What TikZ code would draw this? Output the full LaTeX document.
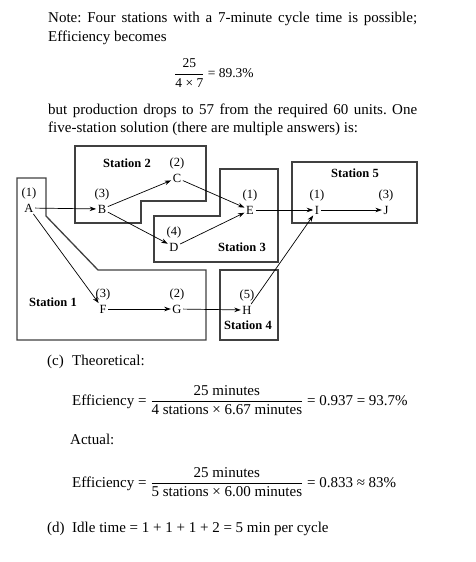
\documentclass[tikz,border=0pt]{standalone}
\usepackage{amsmath}
\usepackage{fontspec}
\setmainfont{Liberation Serif}
\usetikzlibrary{arrows.meta}
\frenchspacing

\begin{document}
\begin{tikzpicture}[x=1pt, y=-1pt,
    station/.style={draw=black!75, line width=1.3pt},
    task/.style={inner sep=1.5pt, text height=8.5pt, text depth=0pt, font=\fontsize{12.5}{12}\selectfont},
    num/.style={inner sep=0pt, text height=8.5pt, text depth=2.5pt, font=\fontsize{12.5}{12}\selectfont},
    title/.style={inner sep=0pt, font=\fontsize{12.5}{13}\selectfont\bfseries},
    flow/.style={-{Stealth[length=6.5pt,width=4.5pt]}, line width=0.7pt},
    txt/.style={anchor=base west, inner sep=0pt, font=\fontsize{15}{17}\selectfont}]
    \useasboundingbox (0,0) rectangle (476,562);

    % Text above the diagram
    \node[txt] (note1) at (48,22.5) {\makebox[369pt][s]{Note: Four stations with a 7-minute cycle time is possible;}};
    \node[txt] (note2) at (48,41.5) {Efficiency becomes};
    \node[txt, font=\fontsize{13.5}{14}\selectfont] (eff0) at (174,77.5) {$\dfrac{\text{25}}{\text{4 × 7}}$ = 89.3\%};
    \node[txt] (note3) at (48,114.5) {\makebox[369pt][s]{but production drops to 57 from the required 60 units. One}};
    \node[txt] (note4) at (48,132.5) {five-station solution (there are multiple answers) is:};

    % Draw the stations
    \draw[station] (17,178) -- (46,178) -- (46,216) -- (98,270) -- (206,270) -- (206,340) -- (17,340) -- cycle;
    \draw[station] (75,146) -- (206,146) -- (206,201) -- (141,201) -- (141,223) -- (75,223) -- cycle;
    \draw[station] (154,216) -- (220,216) -- (220,169) -- (278,169) -- (278,262) -- (154,262) -- cycle;
    \draw[station] (220,270) rectangle (278,340);
    \draw[station] (292,162) rectangle (417,223);

    % Station labels
    \node[title] (s1) at (53,302) {Station 1};
    \node[title] (s2) at (127,163) {Station 2};
    \node[title] (s3) at (242,247) {Station 3};
    \node[title] (s4) at (248,325) {Station 4};
    \node[title] (s5) at (355,173) {Station 5};

    % Tasks with their times
    \node[task, label={[num, label distance=3pt]above:(1)}] (A) at (29,208) {A};
    \node[task, label={[num, label distance=3pt]above:(3)}] (B) at (102,209) {B};
    \node[task, label={[num, label distance=3pt]above:(2)}] (C) at (177,178) {C};
    \node[task, label={[num, label distance=3pt]above:(4)}] (D) at (174,247) {D};
    \node[task, label={[num, label distance=3pt]above:(1)}] (E) at (250,210) {E};
    \node[task, label={[num, label distance=3pt]above:(3)}] (F) at (103,309) {F};
    \node[task, label={[num, label distance=3pt]above:(2)}] (G) at (177,309) {G};
    \node[task, label={[num, label distance=3pt]above:(5)}] (H) at (247,310) {H};
    \node[task, label={[num, label distance=3pt]above:(1)}] (I) at (317,210) {I};
    \node[task, label={[num, label distance=3pt]above:(3)}] (J) at (386,210) {J};

    % Draw the precedence arrows
    \draw[flow] (A) -- (B);
    \draw[flow] (A) -- (F);
    \draw[flow] (B) -- (C);
    \draw[flow] (B) -- (D);
    \draw[flow] (C) -- (E);
    \draw[flow] (D) -- (E);
    \draw[flow] (E) -- (I);
    \draw[flow] (I) -- (J);
    \draw[flow] (F) -- (G);
    \draw[flow] (G) -- (H);
    \draw[flow] (H) -- (I);

    % Text below the diagram
    \node[txt] (partc) at (47,365) {\makebox[25pt][l]{(c)}Theoretical:};
    \node[txt] (eff1) at (72,405) {Efficiency = $\dfrac{\text{25 minutes}}{\text{4 stations × 6.67 minutes}}$ = 0.937 = 93.7\%};
    \node[txt] (actual) at (70,444) {Actual:};
    \node[txt] (eff2) at (72,487) {Efficiency = $\dfrac{\text{25 minutes}}{\text{5 stations × 6.00 minutes}}$ = 0.833 ≈ 83\%};
    \node[txt] (partd) at (47,532) {\makebox[25pt][l]{(d)}Idle time = 1 + 1 + 1 + 2 = 5 min per cycle};
\end{tikzpicture}
\end{document}
